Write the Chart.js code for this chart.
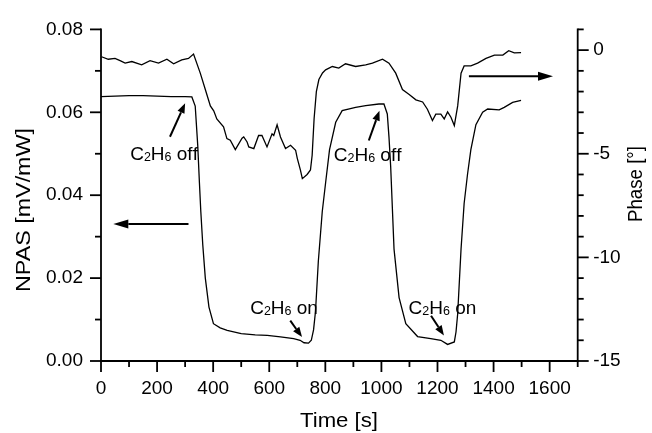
<!DOCTYPE html>
<html>
<head>
<meta charset="utf-8">
<script src="https://cdn.jsdelivr.net/npm/chart.js@4/dist/chart.umd.min.js"></script>
<style>
html,body{margin:0;padding:0;background:#fff;}
canvas{display:block;}
</style>
</head>
<body>
<canvas id="c" width="652" height="433"></canvas>
<script>
// ---------- data ----------
const npasTime = [0, 50, 100, 150, 200, 250, 300, 324, 336, 345, 351, 356, 363, 372, 385, 401, 425, 450, 500, 550, 593, 640, 687, 710, 724, 740, 750, 758, 765, 775, 789, 801, 815, 837, 860, 908, 944, 991, 1009, 1021, 1027, 1033, 1045, 1063, 1087, 1129, 1176, 1212, 1236, 1260, 1266, 1272, 1284, 1295, 1307, 1319, 1337, 1361, 1379, 1420, 1438, 1468, 1498];
const npasValue = [0.0638, 0.0639, 0.0640, 0.0640, 0.0639, 0.0638, 0.0638, 0.0637, 0.0615, 0.052, 0.043, 0.036, 0.028, 0.020, 0.013, 0.009, 0.008, 0.0074, 0.0066, 0.0063, 0.0062, 0.0058, 0.0054, 0.0050, 0.0044, 0.0043, 0.0050, 0.0075, 0.012, 0.024, 0.036, 0.043, 0.051, 0.0576, 0.0604, 0.0612, 0.0616, 0.0620, 0.0620, 0.0596, 0.054, 0.047, 0.027, 0.0153, 0.009, 0.0059, 0.0054, 0.0050, 0.0040, 0.0046, 0.0070, 0.0114, 0.027, 0.038, 0.045, 0.051, 0.057, 0.060, 0.0608, 0.0606, 0.0612, 0.0624, 0.0629];

const phaseTime = [2, 26, 50, 70, 86, 110, 145, 175, 205, 235, 259, 288, 312, 330, 354, 372, 390, 402, 413, 437, 449, 461, 479, 503, 509, 521, 527, 545, 562, 574, 592, 610, 616, 628, 640, 658, 676, 694, 700, 711, 718, 735, 747, 753, 760, 768, 777, 790, 801, 825, 848, 872, 908, 944, 968, 1004, 1027, 1051, 1075, 1099, 1123, 1147, 1164, 1182, 1194, 1212, 1224, 1236, 1248, 1260, 1272, 1284, 1295, 1319, 1343, 1373, 1403, 1433, 1454, 1474, 1498];
const phaseValue = [-0.32, -0.44, -0.40, -0.52, -0.63, -0.55, -0.71, -0.51, -0.63, -0.44, -0.66, -0.47, -0.40, -0.19, -1.11, -1.90, -2.69, -2.93, -3.32, -3.70, -4.27, -4.35, -4.80, -4.25, -4.19, -4.43, -4.67, -4.75, -4.12, -4.12, -4.67, -4.04, -4.12, -3.60, -4.19, -4.75, -4.59, -4.83, -5.22, -5.78, -6.20, -6.00, -5.78, -5.07, -3.30, -2.00, -1.42, -1.10, -0.95, -0.79, -0.87, -0.66, -0.79, -0.71, -0.63, -0.44, -0.63, -1.11, -1.90, -2.14, -2.40, -2.50, -2.85, -3.40, -3.09, -3.09, -3.32, -2.98, -3.24, -3.64, -2.69, -1.11, -0.76, -0.76, -0.63, -0.40, -0.24, -0.24, -0.03, -0.13, -0.12];

// tick labels
const timeTicks = [0, 200, 400, 600, 800, 1000, 1200, 1400, 1600];
const timeMinor = [100, 300, 500, 700, 900, 1100, 1300, 1500, 1700];
const npasTicks = [0, 0.02, 0.04, 0.06, 0.08];
const npasMinor = [0.01, 0.03, 0.05, 0.07];
const phaseTicks = [-15, -10, -5, 0];
const phaseMinor = [-14, -13, -12, -11, -9, -8, -7, -6, -4, -3, -2, -1, 1];

// annotations (data coordinates: time, NPAS)
const noteText = ['C₂H₆ off', 'C₂H₆ off', 'C₂H₆ on', 'C₂H₆ on'];
const noteX = [104, 830, 532, 1097];
const noteY = [0.0484, 0.0483, 0.01128, 0.01132];
const arrowFromX = [246, 955, 675, 1177, 312, 1312];
const arrowFromY = [0.0541, 0.0532, 0.00973, 0.01092, 0.03307, 0.0687];
const arrowToX = [300, 993, 717, 1223, 44, 1612];
const arrowToY = [0.0622, 0.0604, 0.00577, 0.00617, 0.03307, 0.0687];
const arrowBig = [false, false, false, false, true, true];

const FONT = '"Liberation Sans", Arial, sans-serif';

function drawArrow(ctx, x1, y1, x2, y2, headLen, headW, lw) {
  const ang = Math.atan2(y2 - y1, x2 - x1);
  const bx = x2 - headLen * Math.cos(ang), by = y2 - headLen * Math.sin(ang);
  ctx.lineWidth = lw;
  ctx.beginPath(); ctx.moveTo(x1, y1); ctx.lineTo(bx, by); ctx.stroke();
  ctx.beginPath();
  ctx.moveTo(x2, y2);
  ctx.lineTo(bx + headW * Math.sin(ang), by - headW * Math.cos(ang));
  ctx.lineTo(bx - headW * Math.sin(ang), by + headW * Math.cos(ang));
  ctx.closePath(); ctx.fill();
}

const SUB = '₀₁₂₃₄₅₆₇₈₉';
function drawRich(ctx, text, x, y, size, subSize) {
  let cx = x;
  ctx.textAlign = 'left'; ctx.textBaseline = 'alphabetic';
  for (const ch of text) {
    const si = SUB.indexOf(ch);
    if (si >= 0) {
      ctx.font = subSize + 'px ' + FONT;
      ctx.fillText(String(si), cx, y + 1);
      cx += ctx.measureText(String(si)).width;
    } else {
      ctx.font = size + 'px ' + FONT;
      ctx.fillText(ch, cx, y);
      cx += ctx.measureText(ch).width;
    }
  }
}

function drawTitle(ctx, text, cx, cy, size, targetLen, rot) {
  ctx.save();
  ctx.translate(cx, cy);
  ctx.rotate(rot);
  ctx.font = size + 'px ' + FONT;
  const w = ctx.measureText(text).width;
  ctx.scale(targetLen / w, 1);
  ctx.textAlign = 'center'; ctx.textBaseline = 'middle';
  ctx.fillText(text, 0, 0);
  ctx.restore();
}

const custom = {
  id: 'custom',
  afterDraw(chart) {
    const {ctx, chartArea: a, scales} = chart;
    const sx = scales.x, sy = scales.y, sy2 = scales.y2;
    ctx.save();
    ctx.strokeStyle = '#000'; ctx.fillStyle = '#000';
    ctx.lineWidth = 1.8; ctx.lineCap = 'square';
    const L = (x1, y1, x2, y2) => { ctx.beginPath(); ctx.moveTo(x1, y1); ctx.lineTo(x2, y2); ctx.stroke(); };
    // axis lines
    L(a.left, a.top, a.left, a.bottom);
    L(a.right, a.top, a.right, a.bottom);
    L(a.left, a.bottom, a.right, a.bottom);
    ctx.lineCap = 'butt';
    timeTicks.forEach(v => { const p = sx.getPixelForValue(v); L(p, a.bottom, p, a.bottom + 11); });
    timeMinor.forEach(v => { const p = sx.getPixelForValue(v); L(p, a.bottom, p, a.bottom + 6); });
    npasTicks.forEach(v => { const p = sy.getPixelForValue(v); L(a.left, p, a.left - 11, p); });
    npasMinor.forEach(v => { const p = sy.getPixelForValue(v); L(a.left, p, a.left - 6, p); });
    phaseTicks.forEach(v => { const p = sy2.getPixelForValue(v); L(a.right, p, a.right + 11, p); });
    phaseMinor.forEach(v => { const p = sy2.getPixelForValue(v); L(a.right, p, a.right + 6, p); });

    // arrows
    for (let i = 0; i < arrowFromX.length; i++) {
      const big = arrowBig[i];
      drawArrow(ctx, sx.getPixelForValue(arrowFromX[i]), sy.getPixelForValue(arrowFromY[i]),
        sx.getPixelForValue(arrowToX[i]), sy.getPixelForValue(arrowToY[i]),
        big ? 15 : 10, big ? 4.5 : 3.8, big ? 2 : 2);
    }
    // notes
    for (let i = 0; i < noteText.length; i++) {
      drawRich(ctx, noteText[i], sx.getPixelForValue(noteX[i]), sy.getPixelForValue(noteY[i]), 19, 12.5);
    }
    // titles
    drawTitle(ctx, 'NPAS [mV/mW]', 24, 210, 21, 164, -Math.PI / 2);
    drawTitle(ctx, 'Phase [°]', 636, 184, 20.5, 76, -Math.PI / 2);
    drawTitle(ctx, 'Time [s]', 339, 421, 21, 78, 0);
    ctx.restore();
  }
};

const npasData = npasTime.map((t, i) => ({x: t, y: npasValue[i]}));
const phaseData = phaseTime.map((t, i) => ({x: t, y: phaseValue[i]}));

const tickFont = {family: FONT, size: 19};
new Chart(document.getElementById('c'), {
  type: 'line',
  data: {
    datasets: [
      {label: 'NPAS', data: npasData, yAxisID: 'y', borderColor: '#000', borderWidth: 1.3, pointRadius: 0, tension: 0, fill: false},
      {label: 'Phase', data: phaseData, yAxisID: 'y2', borderColor: '#000', borderWidth: 1.3, pointRadius: 0, tension: 0, fill: false}
    ]
  },
  options: {
    responsive: false,
    animation: false,
    devicePixelRatio: 1,
    layout: {padding: {top: 24, left: 0, right: 0, bottom: 0}},
    plugins: {legend: {display: false}, tooltip: {enabled: false}},
    scales: {
      x: {
        type: 'linear', min: 0, max: 1700,
        grid: {display: false, drawTicks: false}, border: {display: false},
        afterBuildTicks: s => { s.ticks = timeTicks.map(v => ({value: v})); },
        afterFit: s => { s.height = 72; },
        ticks: {font: tickFont, color: '#000', padding: 16, maxRotation: 0, autoSkip: false, callback: v => String(v)}
      },
      y: {
        type: 'linear', position: 'left', min: 0, max: 0.08,
        grid: {display: false, drawTicks: false}, border: {display: false},
        afterBuildTicks: s => { s.ticks = npasTicks.map(v => ({value: v})); },
        afterFit: s => { s.width = 101; },
        ticks: {font: tickFont, color: '#000', padding: 18, autoSkip: false, callback: v => Number(v).toFixed(2)}
      },
      y2: {
        type: 'linear', position: 'right', min: -15, max: 1,
        grid: {display: false, drawTicks: false}, border: {display: false},
        afterBuildTicks: s => { s.ticks = phaseTicks.map(v => ({value: v})); },
        afterFit: s => { s.width = 74.3; },
        ticks: {font: tickFont, color: '#000', padding: 15.5, autoSkip: false, callback: v => String(v)}
      }
    }
  },
  plugins: [custom]
});
</script>
</body>
</html>
